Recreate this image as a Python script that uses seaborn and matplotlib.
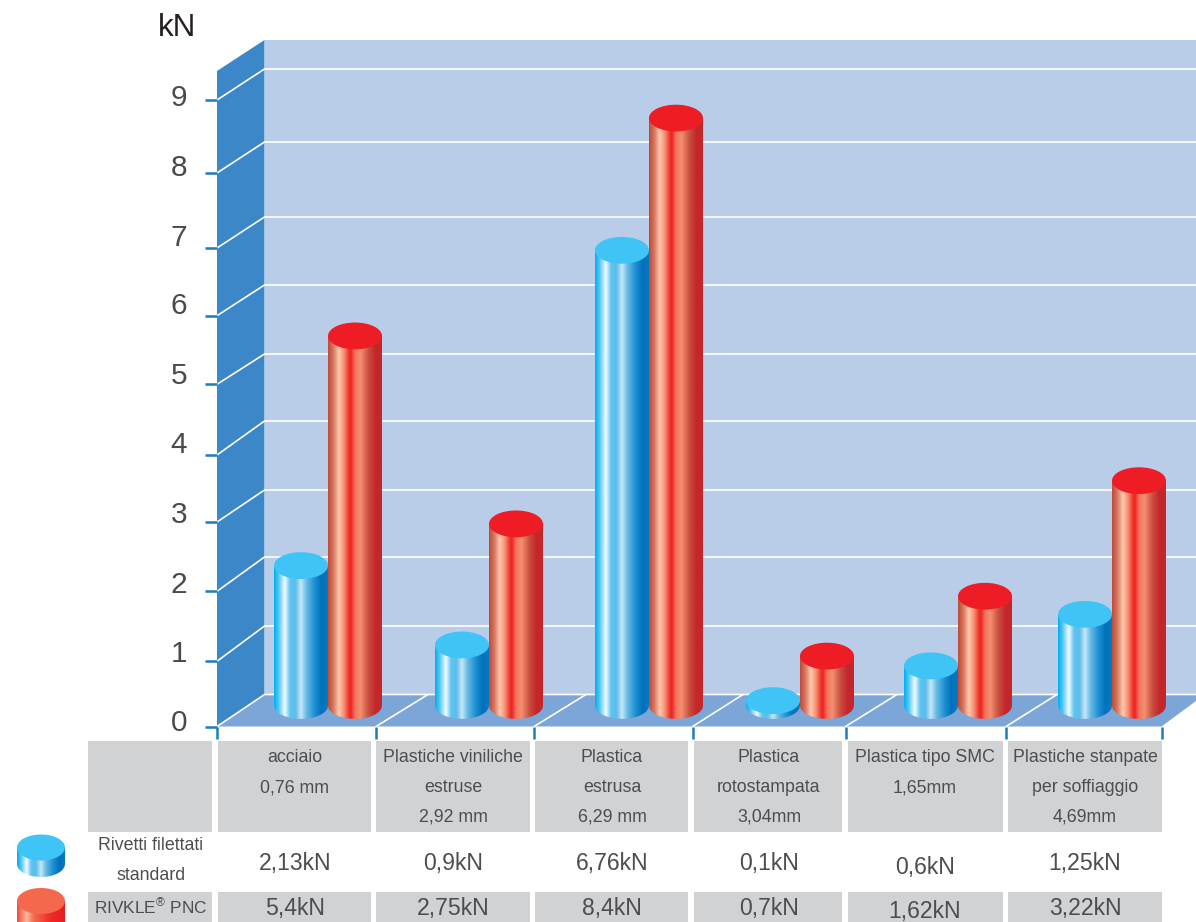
import matplotlib
matplotlib.use("Agg")

import numpy as np
import pandas as pd
import matplotlib.pyplot as plt
import seaborn as sns
from matplotlib.colors import LinearSegmentedColormap
from matplotlib.patches import Ellipse, PathPatch, Polygon, Rectangle
from matplotlib.path import Path as MplPath
from matplotlib.transforms import ScaledTranslation


# values
y_ticks = [0, 1, 2, 3, 4, 5, 6, 7, 8, 9]
blue_heights = [2.01, 0.87, 6.54, 0.07, 0.57, 1.31]
red_heights = [5.31, 2.61, 8.44, 0.71, 1.57, 3.23]

headers = [
    ["acciaio", "0,76 mm"],
    ["Plastiche viniliche", "estruse", "2,92 mm"],
    ["Plastica", "estrusa", "6,29 mm"],
    ["Plastica", "rotostampata", "3,04mm"],
    ["Plastica tipo SMC", "1,65mm"],
    ["Plastiche stanpate", "per soffiaggio", "4,69mm"],
]
blue_labels = ["2,13kN", "0,9kN", "6,76kN", "0,1kN", "0,6kN", "1,25kN"]
red_labels = ["5,4kN", "2,75kN", "8,4kN", "0,7kN", "1,62kN", "3,22kN"]

# layout, in pixels of the 1196x922 picture
W, H = 1196, 922
KN_PX = 69.6
BASE_Y = 705.5
WALL_X = 264.5
# the ticks of the original are not evenly spaced
tick_px = [726.5, 661.3, 591.3, 522, 455, 384.3, 315.7, 248, 173, 100]
wall_px = [694.5, 626, 557, 490, 421, 354, 285, 217, 142, 69]
label_px = [720, 651, 582, 512, 442, 373, 303, 235, 165, 95]
column_edges = [217, 376, 534, 692.5, 845.5, 1006, 1161.5]
floor_back_x = [265, 428, 586, 743, 897, 1057]
blue_x = [301, 462, 622, 773, 931, 1085]
red_x = [355, 516, 676, 827, 985, 1139]
cell_left = [217.5, 376, 535, 694, 848, 1008]
cell_right = [371, 530, 688, 842, 1003, 1162]
text_x = [295, 453, 612, 769, 925, 1085]
blue_row_y = [863, 863, 863, 863, 867, 863]
red_row_y = [908, 908, 908, 908, 911, 908]
BAR_RY = 13.4

TEXT_DARK = "#4d4d4f"
TICK_BLUE = "#1a7cc0"
FONT = "Liberation Sans"

blue_cmap = LinearSegmentedColormap.from_list("blue_cyl", [
    (0.0, "#00aeef"), (0.08, "#4cc6f4"), (0.2, "#f4fbff"), (0.3, "#5cc4f0"),
    (0.4, "#5fbde9"), (0.5, "#c6e7f8"), (0.6, "#69bce6"), (0.75, "#1e90d2"),
    (0.88, "#0072bc"), (1.0, "#0a78c0"),
])
red_cmap = LinearSegmentedColormap.from_list("red_cyl", [
    (0.0, "#bc4a3a"), (0.1, "#d77860"), (0.2, "#ffc9ae"), (0.3, "#f58b70"),
    (0.38, "#ef3b2c"), (0.42, "#ed2024"), (0.5, "#f2735a"), (0.6, "#f58f70"),
    (0.75, "#c9503f"), (0.88, "#c4262b"), (1.0, "#c4262b"),
])
swatch_red_cmap = LinearSegmentedColormap.from_list("red_swatch", [
    (0.0, "#ee4a3a"), (0.2, "#fbb79c"), (0.35, "#f46a50"), (0.7, "#ee2a28"),
    (1.0, "#e81c24"),
])


def px_axes(fig, left, top, right, bottom):
    ax = fig.add_axes([left / W, 1 - bottom / H, (right - left) / W, (bottom - top) / H])
    ax.patch.set_visible(False)
    return ax


def cylinder(ax, x0, width, top, base, ry, cmap, top_color, z=3, body=None):
    # body gradient clipped to the side of a cylinder, flat ellipse on top
    arc = np.linspace(np.pi, 0, 40)
    cx = x0 + width / 2
    verts = [(x0, top)] + list(zip(cx + width / 2 * np.cos(arc), base + ry * np.sin(arc))) + [(x0 + width, top), (x0, top)]
    outline = PathPatch(MplPath(verts, closed=True), transform=ax.transData)
    im = ax.imshow(np.linspace(0, 1, 256)[None, :], cmap=cmap, aspect="auto",
                   extent=(x0, x0 + width, min(top, base + ry), max(top, base + ry)),
                   interpolation="bilinear", zorder=z)
    im.set_clip_box(ax.figure.bbox)
    im.set_clip_path(outline)
    if body is not None:
        body.set_clip_box(ax.figure.bbox)
        body.set_clip_path(outline)
    ax.add_patch(Ellipse((cx, top), width, 2 * abs(ry), facecolor=top_color, edgecolor="none",
                         zorder=z + 0.1, clip_on=False))


sns.set_theme(style="white")
plt.rcParams["font.family"] = [FONT, "DejaVu Sans"]
plt.rcParams["mathtext.fontset"] = "custom"
plt.rcParams["mathtext.rm"] = FONT
plt.rcParams["mathtext.default"] = "regular"

fig = plt.figure(figsize=(W / 100, H / 100), dpi=100, facecolor="white")

# background drawn in pixel coordinates
ax_px = px_axes(fig, 0, 0, W, H)
ax_px.set_xlim(0, W)
ax_px.set_ylim(H, 0)
ax_px.axis("off")

ax_px.add_patch(Polygon([(217, 71), (WALL_X, 40), (WALL_X, wall_px[0]), (217, tick_px[0])], facecolor="#3c87c7", edgecolor="none"))
ax_px.add_patch(Rectangle((WALL_X, 40), W - WALL_X, wall_px[0] - 40, facecolor="#b9cde8", edgecolor="none"))
ax_px.add_patch(Polygon([(217, tick_px[0]), (WALL_X, wall_px[0]), (W, wall_px[0]), (W, 701), (column_edges[-1], tick_px[0])], facecolor="#7ca5d8", edgecolor="none"))

# grid lines run from the front edge along the side wall and the back wall
for front, back in zip(tick_px, wall_px):
    ax_px.plot([217, WALL_X, W], [front, back, back], color="white", lw=1.2, zorder=1)
for front_x, back_x in zip(column_edges[1:], floor_back_x[1:]):
    ax_px.plot([front_x, back_x], [tick_px[0], wall_px[0]], color="white", lw=1.2, zorder=1)

# table cells
ax_px.add_patch(Rectangle((88, 741), 124, 91, facecolor="#d1d2d4", edgecolor="none"))
ax_px.add_patch(Rectangle((88, 892), 124, 30, facecolor="#d1d2d4", edgecolor="none"))
for left, right in zip(cell_left, cell_right):
    ax_px.add_patch(Rectangle((left, 741), right - left, 91, facecolor="#d1d2d4", edgecolor="none"))
    ax_px.add_patch(Rectangle((left, 892), right - left, 30, facecolor="#d1d2d4", edgecolor="none"))

for cx, lines, blue_txt, red_txt, y1, y2 in zip(text_x, headers, blue_labels, red_labels, blue_row_y, red_row_y):
    for line, y in zip(lines, [757.5, 787.5, 816.5]):
        ax_px.text(cx, y, line, ha="center", va="center", fontsize=12.8, color=TEXT_DARK)
    ax_px.text(cx, y1, blue_txt, ha="center", va="center", fontsize=16.6, color=TEXT_DARK)
    ax_px.text(cx, y2, red_txt, ha="center", va="center", fontsize=16.6, color=TEXT_DARK)

ax_px.text(151, 845.5, "Rivetti filettati", ha="center", va="center", fontsize=12.8, color=TEXT_DARK)
ax_px.text(151, 875.5, "standard", ha="center", va="center", fontsize=12.8, color=TEXT_DARK)
ax_px.text(151, 907, "RIVKLE$^{®}$ PNC", ha="center", va="center", fontsize=12.4, color=TEXT_DARK)
ax_px.text(177, 28.5, "kN", ha="center", va="center", fontsize=22.5, color="#231f20")

# legend cylinders
cylinder(ax_px, 17, 48, 847.5, 864, 13, blue_cmap, "#3fc5f5")
cylinder(ax_px, 17, 48, 901, 936, 13, swatch_red_cmap, "#f4694d")
ax_px.set_xlim(0, W)
ax_px.set_ylim(H, 0)

# front plane carries the kN axis and the column ticks
ax_main = px_axes(fig, 217, tick_px[-1], W, tick_px[0])
ax_main.set_xlim(217, W)
tick_height = [tick_px[0] - p for p in tick_px]
ax_main.set_yscale("function", functions=(
    lambda v: np.interp(v, y_ticks, tick_height),
    lambda h: np.interp(h, tick_height, y_ticks),
))
ax_main.set_ylim(0, 9)
sns.despine(ax=ax_main, left=True, bottom=True)
ax_main.set_yticks(y_ticks)
ax_main.set_xticks(column_edges)
ax_main.set_xticklabels([])
ax_main.tick_params(axis="both", direction="out", length=8.6, width=1.8, color=TICK_BLUE, left=True, bottom=True)
ax_main.tick_params(axis="y", which="major", labelsize=21.5, labelcolor="#4a4a4c", pad=13)
ax_main.minorticks_off()
for label, tick_y, label_y in zip(ax_main.get_yticklabels(), tick_px, label_px):
    label.set_transform(label.get_transform() + ScaledTranslation(0, (tick_y - label_y) / 100, fig.dpi_scale_trans))

# cylinders stand a little behind the front plane
ax_bars = px_axes(fig, 217, BASE_Y - 9 * KN_PX, W, BASE_Y)
df = pd.DataFrame({
    "x": blue_x + red_x,
    "height": blue_heights + red_heights,
    "series": ["Rivetti filettati standard"] * len(blue_x) + ["RIVKLE PNC"] * len(red_x),
})
sns.barplot(data=df, x="x", y="height", hue="series", native_scale=True, dodge=False,
            width=1, palette=["#0090d4", "#d8402f"], saturation=1, legend=False, ax=ax_bars)
ry_kn = BAR_RY / KN_PX
for container, cmap, top_color in zip(ax_bars.containers, [blue_cmap, red_cmap], ["#40c4f5", "#ee1c25"]):
    for bar in container:
        cylinder(ax_bars, bar.get_x(), bar.get_width(), bar.get_height(), 0, -ry_kn,
                 cmap, top_color, z=3 if top_color == "#40c4f5" else 4, body=bar)
ax_bars.set_xlim(217, W)
ax_bars.set_ylim(0, 9)
ax_bars.axis("off")

fig.savefig("out.png", dpi=100)
